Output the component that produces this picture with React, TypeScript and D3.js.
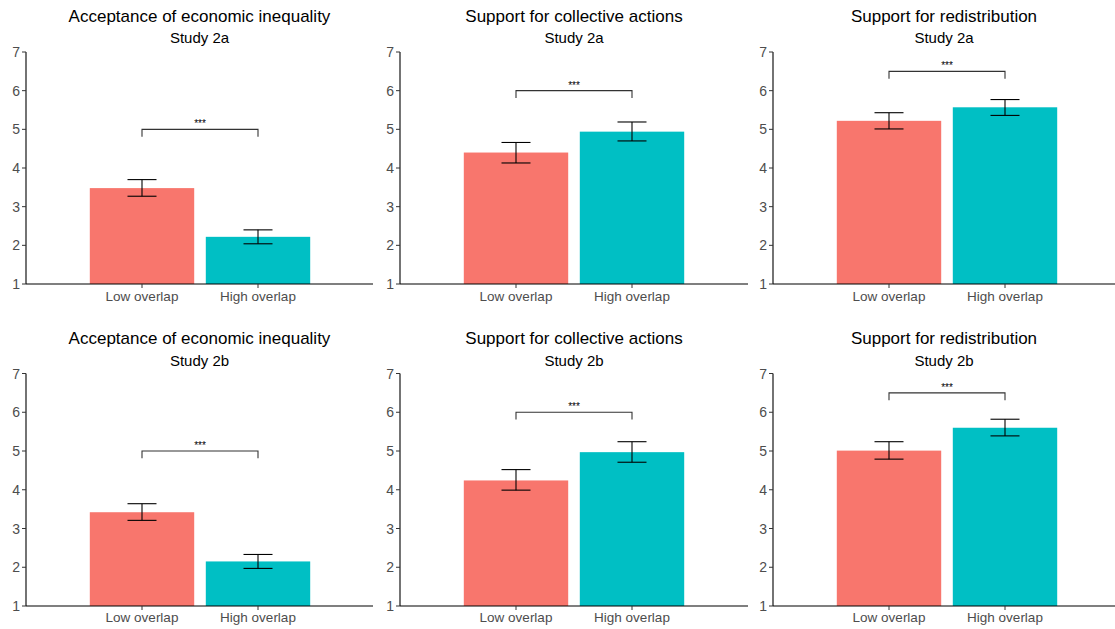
import React from "react";
import * as d3 from "d3";

const measures = [
  "Acceptance of economic inequality",
  "Support for collective actions",
  "Support for redistribution",
];
const studies = ["Study 2a", "Study 2b"];
const conditions = ["Low overlap", "High overlap"];

// Study 2a: [measure][condition]
const mean2a = [[3.48, 2.22], [4.40, 4.94], [5.22, 5.57]];
const lo2a = [[3.27, 2.04], [4.13, 4.70], [5.01, 5.36]];
const hi2a = [[3.70, 2.40], [4.66, 5.19], [5.43, 5.77]];
// Study 2b
const mean2b = [[3.42, 2.15], [4.24, 4.97], [5.01, 5.60]];
const lo2b = [[3.21, 1.97], [3.99, 4.71], [4.79, 5.39]];
const hi2b = [[3.64, 2.33], [4.52, 5.24], [5.24, 5.82]];

const sigLabels = ["***", "***", "***"];
const bracketY = [5, 6, 6.5];
const yTicks = [1, 2, 3, 4, 5, 6, 7];

const colors = ["#F8766D", "#00BFC4"];

const W = 1115;
const H = 629;
const axisX = [26, 400, 773];
const axisEnd = [373, 748, 1115];
const rowY = [
  { top: 52, bottom: 284, title: 22, sub: 43, xlab: 301 },
  { top: 373.5, bottom: 606, title: 344, sub: 366, xlab: 622 },
];
const FONT = "'Liberation Sans', Arial, sans-serif";

function Panel({ col, row }: { col: number; row: number }) {
  const r = rowY[row];
  const means = row === 0 ? mean2a : mean2b;
  const los = row === 0 ? lo2a : lo2b;
  const his = row === 0 ? hi2a : hi2b;
  const y = d3.scaleLinear().domain([1, 7]).range([r.bottom, r.top]);
  const x0 = axisX[col];
  const x = d3.scaleLinear().domain([0, 1]).range([x0, x0 + 116]);
  const barW = x(0.9) - x(0);
  const capW = x(0.25) - x(0);
  const cx = (axisX[col] + axisEnd[col]) / 2;
  const b = bracketY[col];
  const tip = 0.19;
  return (
    <g>
      <text x={cx} y={r.title} textAnchor="middle" fontSize={17} fill="#000" fontFamily={FONT}>
        {measures[col]}
      </text>
      <text x={cx} y={r.sub} textAnchor="middle" fontSize={15} fill="#000" fontFamily={FONT}>
        {studies[row]}
      </text>
      {conditions.map((c, i) => (
        <rect
          key={c}
          x={x(i + 1) - barW / 2}
          y={y(means[col][i])}
          width={barW}
          height={y(1) - y(means[col][i])}
          fill={colors[i]}
        />
      ))}
      {conditions.map((c, i) => (
        <g key={c + "e"} stroke="#000" strokeWidth={1.1} fill="none">
          <line x1={x(i + 1)} x2={x(i + 1)} y1={y(los[col][i])} y2={y(his[col][i])} />
          <line x1={x(i + 1) - capW / 2} x2={x(i + 1) + capW / 2} y1={y(los[col][i])} y2={y(los[col][i])} />
          <line x1={x(i + 1) - capW / 2} x2={x(i + 1) + capW / 2} y1={y(his[col][i])} y2={y(his[col][i])} />
        </g>
      ))}
      <path
        d={`M${x(1)},${y(b - tip)}V${y(b)}H${x(2)}V${y(b - tip)}`}
        stroke="#333"
        strokeWidth={1.1}
        fill="none"
      />
      <text x={(x(1) + x(2)) / 2} y={y(b) - 2} textAnchor="middle" fontSize={10} fill="#000" fontFamily={FONT}>
        {sigLabels[col]}
      </text>
      {/* axes */}
      <line x1={x0} x2={x0} y1={y(7)} y2={y(1)} stroke="#000" strokeWidth={1.1} />
      <line x1={x0} x2={axisEnd[col]} y1={y(1)} y2={y(1)} stroke="#000" strokeWidth={1.1} />
      {yTicks.map((t) => (
        <g key={t}>
          <line x1={x0 - 4} x2={x0} y1={y(t)} y2={y(t)} stroke="#333" strokeWidth={1} />
          <text
            x={x0 - 6}
            y={y(t)}
            dy="0.36em"
            textAnchor="end"
            fontSize={14}
            fill="#4D4D4D"
            fontFamily={FONT}
          >
            {t}
          </text>
        </g>
      ))}
      {conditions.map((c, i) => (
        <g key={c + "t"}>
          <line x1={x(i + 1)} x2={x(i + 1)} y1={y(1)} y2={y(1) + 4} stroke="#333" strokeWidth={1} />
          <text x={x(i + 1)} y={r.xlab} textAnchor="middle" fontSize={13.5} fill="#4D4D4D" fontFamily={FONT}>
            {c}
          </text>
        </g>
      ))}
    </g>
  );
}

export default function App() {
  return (
    <svg
      width={W}
      height={H}
      style={{ position: "absolute", left: 0, top: 0, background: "#fff" }}
    >
      <rect width={W} height={H} fill="#fff" />
      {[0, 1].map((row) =>
        [0, 1, 2].map((col) => <Panel key={`${row}-${col}`} col={col} row={row} />)
      )}
    </svg>
  );
}
